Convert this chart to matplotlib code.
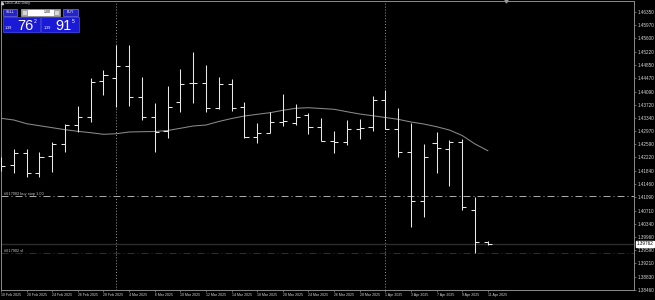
import matplotlib
matplotlib.use('Agg')
import matplotlib.pyplot as plt
import matplotlib.transforms as mtransforms
import numpy as np
import pandas as pd
from matplotlib.patches import Rectangle

plt.rcParams['font.family'] = ['Liberation Sans Narrow', 'Liberation Sans', 'DejaVu Sans']

# USDCAD daily bars, 18 Feb 2025 - 11 Apr 2025
dates = pd.bdate_range('2025-02-18', '2025-04-11')
opens = [1.41918, 1.42003, 1.42335, 1.41767, 1.42267, 1.42600, 1.43139, 1.43375, 1.44398, 1.44483,
         1.44816, 1.43935, 1.43375, 1.42969, 1.43801, 1.44341, 1.44324, 1.43614, 1.44313, 1.43659,
         1.42790, 1.42921, 1.43233, 1.43205, 1.43424, 1.43074, 1.42671, 1.42648, 1.43034, 1.43083,
         1.43858, 1.43017, 1.42372, 1.40989, 1.42637, 1.42458, 1.42656, 1.40724, 1.39807]
highs = [1.42230, 1.42458, 1.42458, 1.42364, 1.42665, 1.43159, 1.43679, 1.44483, 1.44702, 1.45412,
         1.45412, 1.44495, 1.43756, 1.44256, 1.44722, 1.45205, 1.44844, 1.44503, 1.44438, 1.43801,
         1.43188, 1.43517, 1.44012, 1.43736, 1.43489, 1.43330, 1.42977, 1.43282, 1.43318, 1.43955,
         1.44134, 1.43614, 1.43188, 1.42591, 1.42949, 1.42713, 1.42733, 1.41102, 1.39844]
lows = [1.41832, 1.41767, 1.41670, 1.41653, 1.41813, 1.42381, 1.42932, 1.43216, 1.43992, 1.43659,
        1.43688, 1.43282, 1.42364, 1.42779, 1.43517, 1.43773, 1.43517, 1.43594, 1.43546, 1.42762,
        1.42637, 1.42904, 1.43120, 1.43139, 1.42884, 1.42685, 1.42344, 1.42580, 1.42750, 1.42960,
        1.43012, 1.42239, 1.40250, 1.40534, 1.41784, 1.41406, 1.40724, 1.39494, 1.39730]
closes = [1.41975, 1.42335, 1.41767, 1.42222, 1.42600, 1.43139, 1.43375, 1.44370, 1.44560, 1.44816,
          1.43935, 1.43375, 1.42949, 1.43637, 1.44313, 1.44324, 1.43631, 1.44313, 1.43614, 1.42790,
          1.42921, 1.43233, 1.43240, 1.43358, 1.43074, 1.42690, 1.42656, 1.43034, 1.43063, 1.43858,
          1.43026, 1.42372, 1.40972, 1.42222, 1.42477, 1.42665, 1.40818, 1.39807, 1.39762]
moving_avg = [1.43330, 1.43282, 1.43176, 1.43120, 1.43063, 1.43006, 1.42960, 1.42921, 1.42875, 1.42892,
              1.42941, 1.42949, 1.42955, 1.42983, 1.43046, 1.43111, 1.43139, 1.43239, 1.43324, 1.43395,
              1.43443, 1.43489, 1.43557, 1.43614, 1.43631, 1.43608, 1.43586, 1.43517, 1.43452, 1.43404,
              1.43353, 1.43301, 1.43225, 1.43168, 1.43091, 1.42997, 1.42841, 1.42600, 1.42409]

price_ticks = [1.46350, 1.45970, 1.45600, 1.45220, 1.44850, 1.44470, 1.44090, 1.43720, 1.43340,
               1.42970, 1.42590, 1.42220, 1.41840, 1.41460, 1.41090, 1.40710, 1.40340, 1.39960,
               1.39590, 1.39210, 1.38830, 1.38460]

buy_stop = 1.41108
stop_loss = 1.39494
bid = 1.39762
order_id = '#617902'
sell_price = ('1.39', '76', '2')
buy_price = ('1.39', '91', '5')

fig = plt.figure(figsize=(6.55, 3.0), dpi=100, facecolor='black')
ax = fig.add_axes([1 / 655, 10 / 300, 633 / 655, 289 / 300], facecolor='black')

idx = np.arange(len(dates))
bar_color = '#e8e8e8'
half = 0.32

# period separators at the first bar of each month
month_start = [i for i in range(1, len(dates)) if dates[i].month != dates[i - 1].month]
for i in month_start:
    ax.axvline(i, color='#9a9a9a', lw=0.7, linestyle=(0, (1, 2)), zorder=1)

# order lines
ax.axhline(buy_stop, color='#a8a8a8', lw=0.72, linestyle=(0, (7, 3, 1, 3)), zorder=1)
ax.axhline(stop_loss, color='#9a0000', lw=0.72, linestyle=(0, (7, 3, 1, 3)), zorder=1)
ax.axhline(bid, color='#2c2c2c', lw=1.0, zorder=1)

# OHLC bars
ax.vlines(idx, lows, highs, color=bar_color, lw=0.75, zorder=3)
ax.hlines(opens, idx - half, idx, color=bar_color, lw=0.75, zorder=3)
ax.hlines(closes, idx, idx + half, color=bar_color, lw=0.75, zorder=3)

ax.plot(idx, moving_avg, color='#8a8a8a', lw=0.75, zorder=2)

ax.set_xlim(0, 49.41)
ax.set_ylim(1.38451, 1.46663)

ax.yaxis.tick_right()
ax.set_yticks(price_ticks)
ax.set_yticklabels([f'{v:.5f}' for v in price_ticks])
ax.set_xticks(idx[::2])
ax.set_xticklabels([f'{d.day} {d:%b %Y}' for d in dates[::2]])
for lbl in ax.get_xticklabels():
    lbl.set_horizontalalignment('left')
ax.tick_params(axis='y', colors='#8c8c8c', labelcolor='#d8d8d8', labelsize=3.3, length=1.6, width=0.5, pad=1.2)
ax.tick_params(axis='x', colors='#8c8c8c', labelcolor='#d8d8d8', labelsize=2.5, length=1.4, width=0.5, pad=1.0)
for s in ax.spines.values():
    s.set_color('#8c8c8c')
    s.set_linewidth(0.7)

# order labels
ax.text(0.25, buy_stop, f'{order_id} buy stop 1.00', color='#c8c8c8', fontsize=2.8, va='bottom', ha='left')
ax.text(0.25, stop_loss, f'{order_id} sl', color='#c8c8c8', fontsize=2.8, va='bottom', ha='left')

# current bid price tag
trans = mtransforms.blended_transform_factory(ax.transAxes, ax.transData)
ax.text(1.004, bid, f'{bid:.5f}', transform=trans, ha='left', va='center', color='black', fontsize=3.3,
        bbox=dict(facecolor='white', edgecolor='white', pad=0.4), clip_on=False, zorder=5)

# chart shift marker
ax.plot([39.4], [1.46663], marker='v', ms=2.2, color='#9a9a9a', clip_on=False, zorder=5)

# one-click trading panel, drawn in pixel space
ov = fig.add_axes([0, 0, 1, 1])
ov.set_xlim(0, 655)
ov.set_ylim(300, 0)
ov.axis('off')
ov.patch.set_alpha(0)


def box(x0, y0, x1, y1, fc, ec):
    ov.add_patch(Rectangle((x0, y0), x1 - x0, y1 - y0, facecolor=fc, edgecolor=ec, linewidth=0.5))


ov.plot([2.2], [3.2], marker='^', ms=1.6, color='#c8c8c8')
ov.text(4.5, 3.3, 'USDCAD,Daily', fontsize=2.8, color='#d0d0d0', va='center', ha='left')

box(3, 8.5, 17, 15.5, '#2424c8', '#7070ff')
ov.text(10, 12, 'SELL', fontsize=2.6, color='white', ha='center', va='center')
box(20.5, 8.5, 60, 15.5, 'white', '#9a9a9a')
box(21.5, 9.5, 26.5, 14.5, '#d8d8d8', '#808080')
box(54, 9.5, 59, 14.5, '#d8d8d8', '#808080')
ov.text(50.5, 12, '1.00', fontsize=2.6, color='black', ha='right', va='center')
box(62.5, 8.5, 77.5, 15.5, '#2424c8', '#7070ff')
ov.text(70, 12, 'BUY', fontsize=2.6, color='white', ha='center', va='center')

for x0, x1, (small, big, sup) in [(2.5, 39.5, sell_price), (41, 78.5, buy_price)]:
    box(x0, 17, x1, 32, '#1a1ad6', '#4a4aff')
    ov.text(x0 + 2.5, 28.8, small, fontsize=2.7, color='white', ha='left', va='baseline')
    ov.text(x0 + 14.8, 30.2, big, fontsize=10.5, color='white', ha='left', va='baseline')
    ov.text(x0 + 30.8, 22.8, sup, fontsize=3.6, color='white', ha='left', va='baseline')

fig.savefig('out.png', dpi=100, facecolor='black')
